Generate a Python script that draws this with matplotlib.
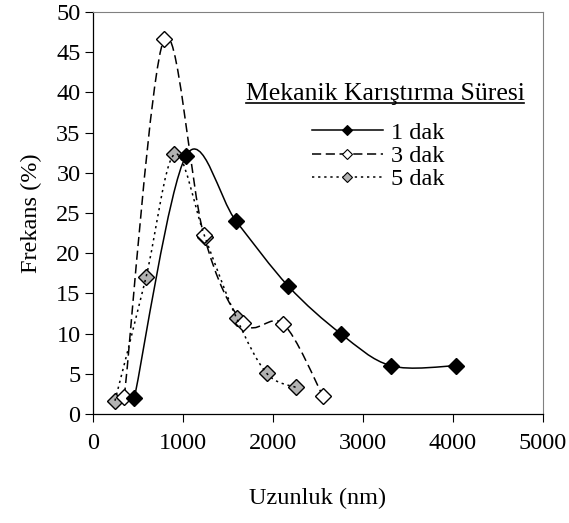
import numpy as np
import matplotlib
matplotlib.use("Agg")
import matplotlib.pyplot as plt
from matplotlib.path import Path
from matplotlib.patches import PathPatch
from matplotlib.lines import Line2D

plt.rcParams['font.family'] = ['Liberation Serif', 'DejaVu Serif']

# veriler (okunan degerler)
x_1dak = [459, 1033, 1589, 2170, 2752, 3311, 4030]
y_1dak = [1.95, 32.1, 24.0, 15.9, 10.0, 6.0, 6.0]

x_3dak = [348, 789, 1230, 1670, 2115, 2552]
y_3dak = [2.15, 46.6, 22.3, 11.3, 11.2, 2.3]

x_5dak = [244, 589, 904, 1244, 1596, 1930, 2256]
y_5dak = [1.65, 17.0, 32.3, 22.0, 11.9, 5.06, 3.3]

etiketler = ['1 dak', '3 dak', '5 dak']
baslik = 'Mekanik Karıştırma Süresi'
xticks = [0, 1000, 2000, 3000, 4000, 5000]
yticks = list(range(0, 55, 5))

FS = 17.5


def yumusak_yol(x, y):
    # Excel benzeri yumusatilmis cizgi (Catmull-Rom -> Bezier)
    p = np.column_stack([x, y]).astype(float)
    p_ext = np.vstack([p[0], p, p[-1]])
    verts = [p[0]]
    codes = [Path.MOVETO]
    for i in range(len(p) - 1):
        p0, p1, p2, p3 = p_ext[i], p_ext[i + 1], p_ext[i + 2], p_ext[i + 3]
        c1 = p1 + (p2 - p0) / 6.0
        c2 = p2 - (p3 - p1) / 6.0
        verts += [c1, c2, p2]
        codes += [Path.CURVE4] * 3
    return Path(verts, codes)


fig = plt.figure(figsize=(5.69, 5.23), dpi=100)
ax = fig.add_axes([93 / 569, 1 - 414 / 523, 450 / 569, 402 / 523])

seriler = [
    (x_1dak, y_1dak, 'black', None),
    (x_3dak, y_3dak, 'white', (0, (6, 3))),
    (x_5dak, y_5dak, '#b2b2b2', (0, (1.5, 2.5))),
]

handles = []
for k, (xs, ys, mc, dash) in enumerate(seriler):
    yol = yumusak_yol(xs, ys)
    patch = PathPatch(yol, facecolor='none', edgecolor='black', lw=1.1,
                      zorder=2 + k)
    if dash is not None:
        patch.set_linestyle(dash)
    ax.add_patch(patch)
    ax.plot(xs, ys, linestyle='none', marker='D', markersize=7.8,
            markerfacecolor=mc, markeredgecolor='black', markeredgewidth=1.0,
            zorder=5 - k)
    h = Line2D([], [], color='black', lw=1.1, marker='D', markersize=5,
               markerfacecolor=mc, markeredgecolor='black', markeredgewidth=0.8)
    if dash is not None:
        h.set_linestyle(dash)
    handles.append(h)

ax.set_xlim(0, 5000)
ax.set_ylim(0, 50)
ax.set_xticks(xticks)
ax.set_yticks(yticks)
ax.tick_params(axis='both', direction='out', length=6, width=0.8,
               labelsize=FS, colors='black')
ax.tick_params(axis='x', pad=8)
ax.tick_params(axis='y', pad=3)

for s in ['top', 'right']:
    ax.spines[s].set_color('#808080')
    ax.spines[s].set_linewidth(0.8)
for s in ['left', 'bottom']:
    ax.spines[s].set_color('black')
    ax.spines[s].set_linewidth(0.9)

ax.set_xlabel('Uzunluk (nm)', fontsize=FS, labelpad=24)
ax.set_ylabel('Frekans (%)', fontsize=FS, labelpad=10)

# legend basligi (alti cizili)
bt = ax.text(0.649, 0.797, baslik, transform=ax.transAxes, fontsize=FS + 1,
             ha='center', va='center')
fig.canvas.draw()
bb = bt.get_window_extent().transformed(fig.transFigure.inverted())
fig.add_artist(Line2D([bb.x0, bb.x1], [bb.y0 + 0.004, bb.y0 + 0.004],
                      transform=fig.transFigure, color='black', lw=1.2))

ax.legend(handles, etiketler, loc='upper left', bbox_to_anchor=(0.46, 0.757),
          frameon=False, fontsize=FS, handlelength=2.9, handletextpad=0.35,
          labelspacing=0.05, borderpad=0)

fig.savefig('out.png', dpi=100)
